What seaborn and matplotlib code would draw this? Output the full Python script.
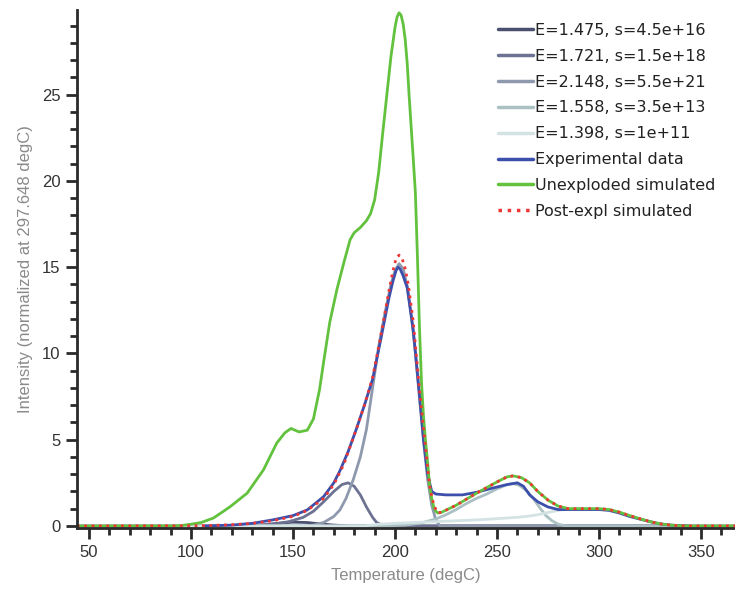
import numpy as np
import pandas as pd
import seaborn as sns
import matplotlib
matplotlib.use("Agg")
import matplotlib.pyplot as plt
from matplotlib.ticker import MultipleLocator

# ---- data ----
labels = ["E=1.475, s=4.5e+16", "E=1.721, s=1.5e+18", "E=2.148, s=5.5e+21",
          "E=1.558, s=3.5e+13", "E=1.398, s=1e+11",
          "Experimental data", "Unexploded simulated", "Post-expl simulated"]

c1_T = [44, 125, 135, 142, 150, 157, 163, 170, 178, 367]
c1_I = [0, 0, 0.05, 0.15, 0.22, 0.2, 0.12, 0.05, 0, 0]

c2_T = [44, 130, 140, 148, 155, 160, 165, 170, 174, 177, 180, 183, 186, 189, 191, 194, 196, 367]
c2_I = [0, 0.02, 0.1, 0.25, 0.5, 0.85, 1.4, 2.0, 2.4, 2.5, 2.3, 1.8, 1.1, 0.5, 0.2, 0.03, 0, 0]

c3_T = [44, 155, 160, 165, 170, 173, 176, 179.5, 183, 186, 189, 192, 195, 198, 200, 202, 204,
        206, 208, 210, 212, 214, 216, 218, 220, 222, 367]
c3_I = [0, 0, 0.05, 0.2, 0.55, 0.93, 1.6, 2.67, 4.0, 5.6, 8.0, 10.4, 12.3, 14.0, 14.8, 15.2, 14.9,
        13.9, 12.2, 10.0, 7.4, 4.9, 2.7, 1.2, 0.35, 0, 0]

c4_T = [44, 195, 205, 212, 220, 225, 230, 235, 240, 245, 250, 255, 258, 261, 265, 268, 271,
        274, 277, 280, 283, 286, 367]
c4_I = [0, 0, 0.05, 0.15, 0.4, 0.65, 0.95, 1.3, 1.6, 1.85, 2.15, 2.4, 2.45, 2.35, 2.0, 1.55, 1.05,
        0.6, 0.3, 0.1, 0.02, 0, 0]

c5_T = [44, 185, 192, 200, 210, 220, 230, 240, 250, 260, 265, 270, 275, 280, 285, 290, 300,
        305, 310, 315, 320, 325, 330, 335, 340, 345, 367]
c5_I = [0, 0, 0.1, 0.15, 0.2, 0.25, 0.3, 0.35, 0.42, 0.5, 0.56, 0.65, 0.78, 0.9, 0.98, 1.0, 1.0,
        0.95, 0.8, 0.6, 0.42, 0.25, 0.12, 0.05, 0.01, 0, 0]

exp_T = [107, 115, 120, 130, 140, 150, 157, 165, 170, 173, 177, 181, 185, 189, 193, 197, 199,
         200.5, 201.5, 202.5, 204, 206, 209, 212, 214, 216, 218, 220, 225, 233, 240, 248, 255, 260,
         263, 266, 270, 275, 280, 285, 300, 305, 310, 315, 320, 325, 330, 335, 340, 344]
exp_I = [0, 0.03, 0.05, 0.15, 0.35, 0.6, 0.93, 1.7, 2.5, 3.2, 4.3, 5.6, 7.0, 8.5, 10.8, 13.2, 14.2,
         14.8, 15.0, 14.9, 14.5, 13.8, 11.3, 7.6, 5.0, 3.0, 2.0, 1.85, 1.8, 1.8, 1.95, 2.2, 2.4, 2.5,
         2.3, 1.8, 1.4, 1.1, 0.95, 0.95, 0.95, 0.9, 0.75, 0.55, 0.4, 0.25, 0.12, 0.05, 0.02, 0.0]

une_T = [44, 90, 95, 100, 105, 111, 119, 127.5, 135.5, 142, 146, 149, 153, 157, 160, 163, 165,
         168, 171.5, 175, 178, 180, 183, 186, 188, 190, 192, 194, 196, 198, 200, 201, 202, 203,
         204, 205, 206, 207, 208, 209, 210, 211, 212, 213, 214, 215, 216, 217, 218, 219, 220, 221,
         223, 230, 240, 250, 255, 258, 262, 266, 270, 275, 280, 285, 290, 300, 305, 310, 315, 320,
         325, 330, 335, 340, 345, 367]
une_I = [0, 0, 0.02, 0.1, 0.2, 0.46, 1.1, 1.9, 3.25, 4.8, 5.4, 5.65, 5.45, 5.55, 6.2, 7.9, 9.5,
         11.8, 13.7, 15.3, 16.6, 17.0, 17.3, 17.7, 18.1, 18.9, 20.5, 22.8, 25.0, 27.2, 28.9, 29.5,
         29.75, 29.6, 29.1, 28.2, 26.8, 24.8, 23.0, 21.2, 19.3, 15.6, 11.5, 8.3, 6.3, 4.9, 3.7, 2.3,
         1.6, 1.1, 0.85, 0.75, 0.8, 1.2, 1.9, 2.55, 2.85, 2.9, 2.8, 2.5, 2.0, 1.5, 1.15, 1.0, 1.0,
         1.0, 0.95, 0.8, 0.6, 0.42, 0.25, 0.12, 0.05, 0.01, 0, 0]

post_T = [44, 100, 110, 120, 130, 140, 150, 157, 165, 170, 175, 181, 185, 189, 193, 197, 199,
          200.5, 202, 203.5, 205, 206.5, 209, 212, 215, 217, 219, 221, 223, 230, 240, 250, 255,
          258, 262, 266, 270, 275, 280, 285, 290, 300, 305, 310, 315, 320, 325, 330, 335, 340,
          345, 367]
post_I = [0, 0.01, 0.03, 0.07, 0.15, 0.3, 0.55, 0.9, 1.6, 2.4, 3.6, 5.6, 7.0, 8.6, 11.0, 13.6,
          14.8, 15.5, 15.7, 15.5, 14.9, 14.0, 11.8, 7.9, 4.5, 2.3, 1.2, 0.75, 0.8, 1.2, 1.9, 2.55,
          2.85, 2.9, 2.8, 2.5, 2.0, 1.5, 1.15, 1.0, 1.0, 1.0, 0.95, 0.8, 0.6, 0.42, 0.25, 0.12,
          0.05, 0.01, 0, 0]

colors = ["#4b4f70", "#6d7292", "#8e99ad", "#abc0c3", "#d3e2e3", "#3c4fab", "#62c23e", "#f03535"]

# ---- plot ----
sns.set_style("ticks")
plt.rcParams["font.family"] = ["Liberation Sans", "DejaVu Sans"]

fig = plt.figure(figsize=(7.35, 5.99), dpi=100)
ax = fig.add_axes([0.1048, 0.1185, 0.8952, 0.8645])

series = [(c1_T, c1_I), (c2_T, c2_I), (c3_T, c3_I), (c4_T, c4_I), (c5_T, c5_I),
          (exp_T, exp_I), (une_T, une_I), (post_T, post_I)]
for i, (T, I) in enumerate(series):
    ls = ":" if i == 7 else "-"
    sns.lineplot(x=T, y=I, ax=ax, color=colors[i], linewidth=2.0, linestyle=ls,
                 label=labels[i], sort=False, estimator=None)

ax.set_xlim(44.1, 366.7)
ax.set_ylim(-0.12, 29.9)
ax.xaxis.set_major_locator(MultipleLocator(50))
ax.xaxis.set_minor_locator(MultipleLocator(10))
ax.yaxis.set_major_locator(MultipleLocator(5))
ax.yaxis.set_minor_locator(MultipleLocator(1))

for s in ["top", "right"]:
    ax.spines[s].set_visible(False)
for s in ["left", "bottom"]:
    ax.spines[s].set_color("#2a2a2a")
    ax.spines[s].set_linewidth(2.0)
ax.tick_params(which="major", length=8, width=2, color="#2a2a2a", labelsize=12,
               labelcolor="#333333", pad=4)
ax.tick_params(which="minor", length=5, width=2, color="#2a2a2a")

ax.set_xlabel("Temperature (degC)", fontsize=12, color="#8a8a8a", labelpad=6)
ax.set_ylabel("Intensity (normalized at 297.648 degC)", fontsize=12, color="#8a8a8a", labelpad=6)

leg = ax.legend(loc="upper left", bbox_to_anchor=(0.630, 0.988), frameon=False,
                prop={"family": "DejaVu Sans", "size": 11.5},
                handlelength=2.2, handletextpad=0.12, labelspacing=0.68, borderaxespad=0)
for line in leg.get_lines():
    line.set_linewidth(2.5)
for t in leg.get_texts():
    t.set_color("#222222")

fig.savefig("out.png", dpi=100)
